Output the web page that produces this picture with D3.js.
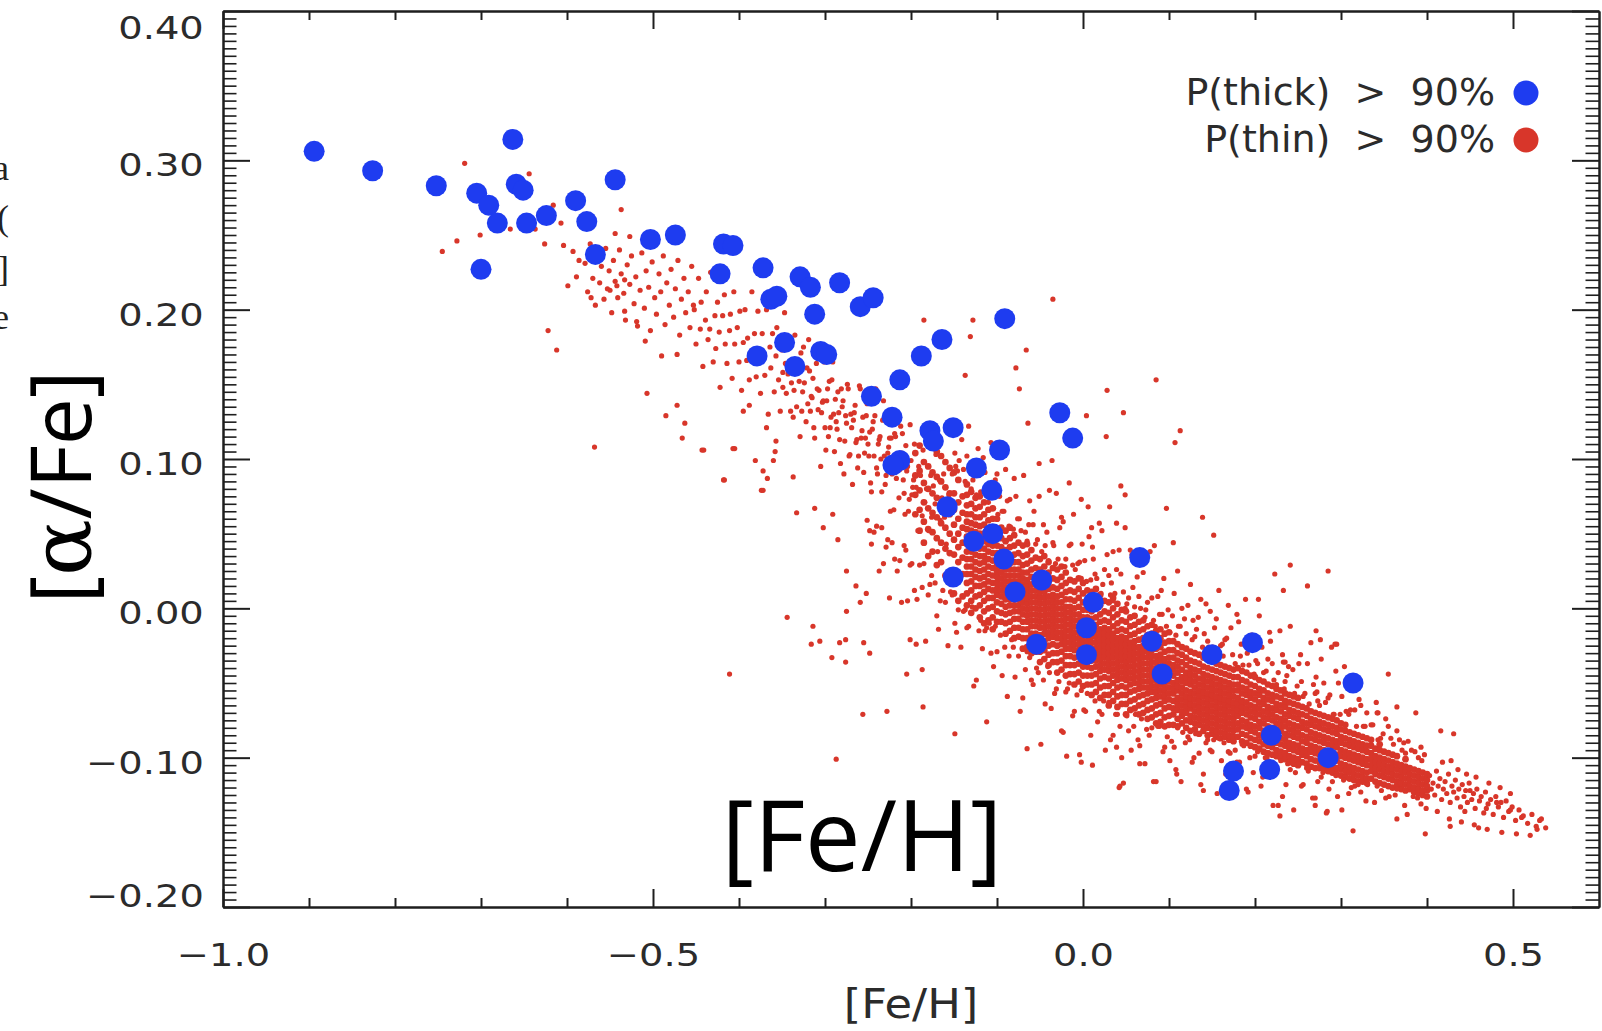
<!DOCTYPE html>
<html>
<head>
<meta charset="utf-8">
<script src="https://cdn.jsdelivr.net/npm/d3@7"></script>
<style>
  html, body { margin: 0; padding: 0; background: #ffffff; }
  svg { display: block; }
</style>
</head>
<body>
<svg id="chart" width="1602" height="1031"></svg>
<script>
// ---------------------------------------------------------------
// Axis ticks
// ---------------------------------------------------------------
const fehMajorTicks = [-1.0, -0.5, 0.0, 0.5];
const fehMinorTicks = [-0.9, -0.8, -0.7, -0.6, -0.4, -0.3, -0.2, -0.1, 0.1, 0.2, 0.3, 0.4];
const alphaMajorTicks = [-0.2, -0.1, 0.0, 0.1, 0.2, 0.3, 0.4];

const legendLabels = ["P(thick)  >  90%", "P(thin)  >  90%"];

// ---------------------------------------------------------------
// Thick-disc stars, P(thick) > 90%  :  [ [Fe/H], [alpha/Fe] ]
// ---------------------------------------------------------------
const thickStars = [
  [-0.894, 0.306], [-0.826, 0.293], [-0.663, 0.314], [-0.752, 0.283], [-0.705, 0.278],
  [-0.691, 0.270], [-0.681, 0.258], [-0.659, 0.284], [-0.651, 0.280], [-0.647, 0.258],
  [-0.624, 0.263], [-0.590, 0.273], [-0.544, 0.287], [-0.577, 0.259], [-0.567, 0.237],
  [-0.700, 0.227], [-0.503, 0.247], [-0.474, 0.250], [-0.418, 0.244], [-0.407, 0.243],
  [-0.422, 0.224], [-0.372, 0.228], [-0.363, 0.207], [-0.356, 0.209], [-0.379, 0.169],
  [-0.329, 0.222], [-0.317, 0.215], [-0.283, 0.218], [-0.312, 0.197], [-0.259, 0.202],
  [-0.244, 0.208], [-0.347, 0.178], [-0.335, 0.162], [-0.305, 0.172], [-0.298, 0.170],
  [-0.091, 0.194], [-0.164, 0.180], [-0.188, 0.169], [-0.213, 0.153], [-0.246, 0.142],
  [-0.222, 0.128], [-0.178, 0.119], [-0.174, 0.112], [-0.151, 0.121], [-0.027, 0.131],
  [-0.012, 0.114], [-0.097, 0.106], [-0.213, 0.099], [-0.221, 0.096], [-0.124, 0.094],
  [-0.106, 0.079], [-0.158, 0.068], [-0.105, 0.050], [-0.127, 0.045], [-0.092, 0.033],
  [0.066, 0.034], [-0.151, 0.021], [-0.048, 0.019], [-0.079, 0.011], [0.012, 0.004],
  [0.004, -0.013], [-0.054, -0.024], [0.004, -0.031], [0.080, -0.022], [0.092, -0.044],
  [0.150, -0.031], [0.197, -0.023], [0.314, -0.050], [0.219, -0.085], [0.285, -0.100],
  [0.217, -0.108], [0.175, -0.109], [0.170, -0.122]
];

// ---------------------------------------------------------------
// Thin-disc stars, P(thin) > 90%. Abundances in milli-dex.
// Dense ridge: each row is [ [Fe/H], [alpha/Fe], [alpha/Fe], ... ]
// ---------------------------------------------------------------
const thinRidgeColumns = [
  [-195,63,76,89,104],
  [-190,52,66,79,92,109],
  [-185,44,58,71,84,98],
  [-180,35,53,67,80,95,115],
  [-175,38,51,64,77,91,108],
  [-170,29,47,61,74,88,105],
  [-165,31,44,57,70,85,102],
  [-160,22,40,54,67,81,98],
  [-155,24,37,50,63,77,94],
  [-150,10,25,36,46,56,66,77,91],
  [-145,5,20,31,41,50,60,71,86],
  [-140,8,23,34,44,54,64,75],
  [-135,2,10,17,23,28,33,38,43,48,53,58,63,69,76,83],
  [-130,-3,5,12,18,23,28,33,38,42,47,52,57,63,70,78],
  [-125,0,8,15,21,26,31,36,41,46,51,56,61,67,74],
  [-120,-6,2,9,15,20,25,30,35,40,45,50,55,61,68,75],
  [-115,-10,-2,5,11,16,21,26,31,35,40,45,50,56,63,71],
  [-110,-8,0,7,13,18,23,28,33,38,43,48,53,59,66],
  [-105,-14,-6,1,7,12,17,22,27,32,37,42,47,53,60,67],
  [-100,-9,-2,4,9,13,17,21,25,29,33,37,42,47,53,60],
  [-95,-9,-3,3,8,12,16,20,24,28,32,36,41,47,54],
  [-90,-17,-10,-4,1,6,10,14,18,22,26,30,34,39,45,52],
  [-85,-15,-9,-3,2,6,10,14,18,22,26,30,35,41,47,54],
  [-80,-20,-13,-7,-2,2,6,10,14,18,22,26,31,36,42,49],
  [-75,-19,-13,-7,-2,2,6,10,14,18,22,26,31,37,44],
  [-70,-27,-20,-14,-9,-4,0,4,8,12,16,20,24,29,35,42],
  [-65,-26,-20,-14,-9,-5,-1,3,7,11,15,19,24,30,36,43],
  [-60,-30,-23,-17,-12,-8,-4,0,4,8,12,16,21,26,32,39],
  [-55,-29,-23,-17,-12,-8,-4,0,4,8,12,16,21,27,34],
  [-50,-36,-29,-23,-18,-13,-9,-5,-1,3,7,11,15,20,26,33],
  [-45,-34,-28,-22,-17,-13,-9,-5,-1,3,7,11,16,22,28,35],
  [-40,-38,-31,-25,-20,-16,-12,-8,-4,0,4,8,13,18,24,31],
  [-35,-36,-30,-24,-19,-15,-11,-7,-3,1,5,9,14,20,27],
  [-30,-43,-36,-30,-25,-20,-16,-12,-8,-4,0,4,8,13,19,26],
  [-25,-41,-35,-29,-24,-20,-16,-12,-8,-4,0,4,9,15,21,28],
  [-20,-45,-38,-32,-27,-23,-19,-15,-11,-7,-3,1,6,11,17,24],
  [-15,-44,-38,-32,-27,-23,-19,-15,-11,-7,-3,1,6,12,19],
  [-10,-51,-44,-38,-33,-28,-24,-20,-16,-12,-8,-4,0,5,11,18],
  [-5,-49,-43,-37,-32,-28,-24,-20,-16,-12,-8,-4,1,7,13,20],
  [0,-52,-45,-39,-34,-30,-26,-22,-18,-14,-10,-6,-1,4,10,17],
  [5,-51,-45,-39,-34,-30,-26,-22,-18,-14,-10,-6,-1,5,12],
  [10,-58,-51,-45,-40,-35,-31,-27,-23,-19,-15,-11,-7,-2,4,11],
  [15,-56,-50,-44,-39,-35,-31,-27,-23,-19,-15,-11,-6,0,6,13],
  [20,-60,-53,-47,-42,-38,-34,-30,-26,-22,-18,-14,-9,-4,2,9],
  [25,-58,-52,-46,-41,-37,-33,-29,-25,-21,-17,-13,-8,-2,5],
  [30,-65,-58,-52,-47,-42,-38,-34,-30,-26,-22,-18,-14,-9,-3,4],
  [35,-62,-56,-50,-45,-41,-37,-33,-29,-25,-21,-17,-12,-6,0,7],
  [40,-66,-59,-53,-48,-44,-40,-36,-32,-28,-24,-20,-15,-10,-4,3],
  [45,-64,-58,-52,-47,-43,-39,-35,-31,-27,-23,-19,-14,-8,-1],
  [50,-71,-64,-58,-53,-48,-44,-40,-36,-32,-28,-24,-20,-15,-9,-2],
  [55,-68,-62,-56,-51,-47,-43,-39,-35,-31,-27,-23,-18,-12,-6],
  [60,-67,-61,-55,-50,-46,-42,-38,-34,-30,-26,-22,-17,-11,-5],
  [65,-71,-65,-59,-54,-50,-46,-42,-38,-34,-30,-26,-21,-15,-9],
  [70,-70,-64,-58,-53,-49,-45,-41,-37,-33,-29,-25,-20,-14,-8],
  [75,-74,-68,-62,-57,-53,-49,-45,-41,-37,-33,-29,-24,-18,-12],
  [80,-73,-67,-61,-56,-52,-48,-44,-40,-36,-32,-28,-23,-17,-11],
  [85,-77,-71,-65,-60,-56,-52,-48,-44,-40,-36,-32,-27,-21,-15],
  [90,-76,-70,-64,-59,-55,-51,-47,-43,-39,-35,-31,-26,-20,-14],
  [95,-79,-73,-67,-62,-58,-54,-50,-46,-42,-38,-34,-29,-23,-17],
  [100,-78,-72,-66,-61,-57,-53,-49,-45,-41,-37,-33,-28,-22,-16],
  [105,-78,-71,-67,-62,-57,-54,-50,-45,-41,-38,-33,-28,-22],
  [110,-79,-74,-68,-64,-60,-55,-52,-48,-43,-39,-35,-30,-24],
  [115,-77,-72,-69,-65,-61,-57,-53,-49,-46,-41,-36,-31,-26],
  [120,-80,-75,-70,-66,-62,-59,-55,-50,-46,-43,-38,-33,-27],
  [125,-82,-76,-72,-67,-64,-60,-56,-51,-48,-44,-40,-35,-29],
  [130,-81,-77,-73,-69,-65,-61,-57,-53,-49,-45,-41,-36,-30],
  [135,-84,-78,-74,-70,-66,-62,-58,-55,-51,-47,-42,-37,-31],
  [140,-82,-79,-75,-71,-67,-63,-59,-56,-52,-48,-44,-39,-33],
  [145,-85,-80,-76,-72,-68,-64,-60,-57,-53,-49,-45,-40,-34],
  [150,-84,-81,-77,-73,-69,-65,-61,-58,-54,-50,-46,-41,-35],
  [155,-86,-82,-78,-74,-70,-66,-62,-59,-55,-51,-47,-42,-37],
  [160,-87,-83,-79,-75,-71,-67,-63,-60,-56,-52,-48,-43,-38],
  [165,-86,-84,-80,-76,-72,-68,-64,-61,-57,-53,-49,-44,-39],
  [170,-88,-85,-81,-77,-73,-69,-65,-62,-58,-54,-50,-45,-40],
  [175,-89,-86,-82,-78,-74,-70,-66,-63,-59,-55,-51,-46,-41],
  [180,-86,-81,-77,-72,-68,-64,-60,-55,-51,-46,-40],
  [185,-89,-84,-79,-75,-70,-66,-62,-57,-53,-48,-42],
  [190,-90,-85,-80,-76,-71,-67,-63,-58,-54,-49,-43],
  [195,-92,-87,-82,-78,-73,-69,-65,-60,-56,-51,-45],
  [200,-93,-88,-83,-79,-74,-70,-66,-61,-57,-52,-46],
  [205,-94,-89,-85,-80,-76,-71,-67,-63,-58,-54,-48],
  [210,-96,-91,-86,-82,-77,-73,-69,-64,-60,-55,-49],
  [215,-97,-92,-88,-83,-79,-74,-70,-66,-61,-57,-51],
  [220,-98,-93,-89,-84,-80,-75,-71,-67,-62,-58,-52],
  [225,-99,-95,-90,-86,-81,-77,-73,-68,-64,-59,-54],
  [230,-100,-96,-91,-87,-82,-78,-74,-69,-65,-60,-55],
  [235,-101,-97,-92,-88,-84,-79,-75,-71,-66,-62,-57],
  [240,-103,-99,-94,-90,-85,-81,-77,-72,-68,-63,-58],
  [245,-104,-100,-95,-91,-86,-82,-78,-73,-69,-64,-59],
  [250,-105,-101,-96,-92,-87,-83,-79,-74,-70,-65,-60],
  [255,-103,-98,-94,-89,-85,-80,-76,-71,-66],
  [260,-104,-99,-95,-90,-86,-81,-77,-72,-67],
  [265,-106,-101,-96,-92,-87,-83,-78,-74,-69],
  [270,-107,-102,-97,-93,-88,-84,-79,-75,-70],
  [275,-107,-103,-98,-94,-89,-85,-80,-76,-71],
  [280,-108,-104,-99,-95,-90,-86,-81,-77,-72],
  [285,-109,-105,-100,-96,-91,-87,-82,-78,-73],
  [290,-110,-106,-101,-97,-92,-88,-83,-79,-74],
  [295,-111,-107,-102,-98,-93,-89,-84,-80,-75],
  [300,-112,-108,-104,-99,-95,-90,-86,-81,-77],
  [305,-113,-109,-105,-100,-96,-91,-87,-82,-78],
  [310,-114,-110,-106,-101,-97,-92,-88,-83],
  [315,-115,-111,-107,-102,-98,-93,-89,-84],
  [320,-116,-112,-108,-103,-99,-94,-90,-85],
  [325,-116,-113,-109,-104,-100,-95,-91,-86],
  [330,-117,-114,-110,-105,-101,-96,-92,-87],
  [335,-114,-109,-105,-101,-97,-92,-88],
  [340,-116,-111,-107,-103,-99,-94],
  [345,-117,-112,-108,-104,-100,-95,-91],
  [350,-118,-113,-109,-105,-101,-96],
  [355,-119,-114,-110,-106,-102,-97],
  [360,-120,-115,-111,-107,-103,-98],
  [365,-119,-116,-112,-108,-104,-99],
  [370,-121,-117,-113,-109,-105],
  [375,-122,-118,-114,-110,-106,-101],
  [380,-121,-119,-115,-111,-107],
  [385,-123,-120,-116,-112,-108],
  [390,-124,-121,-117,-113,-109],
  [395,-125,-122,-118,-114,-110],
  [400,-126,-122,-119,-115,-111]
];

// Metal-poor end of the thin sequence: [ [Fe/H], [alpha/Fe] ] in milli-dex
const thinMetalPoor = [
  [-719,298],[-644,291],[-728,246],[-701,250],[-745,239],[-666,254],[-637,254],[-616,270],
  [-607,258],[-626,244],[-604,243],[-537,267],[-544,251],[-527,249],[-593,239],[-586,233],
  [-589,222],[-599,216],[-572,208],[-550,213],[-533,220],[-542,216],[-533,199],[-519,192],
  [-509,179],[-622,186],[-612,173],[-507,144],[-490,169],[-472,170],[-472,136],[-485,129],
  [-463,124],
  [-579,231],[-576,212],[-573,244],[-570,221],[-567,203],[-565,236],[-562,218],[-560,229],
  [-557,207],[-555,241],[-553,214],[-551,226],[-548,198],[-546,233],[-544,219],[-541,208],
  [-539,240],[-537,224],[-534,211],[-532,193],[-530,230],[-527,217],[-525,236],[-522,204],
  [-520,222],[-518,189],[-515,213],[-513,238],[-510,201],[-508,226],[-505,215],[-503,186],
  [-501,232],[-498,208],[-496,197],[-493,224],[-491,212],[-488,236],[-486,190],[-484,218],
  [-481,203],[-479,227],[-476,195],[-474,214],[-471,233],[-469,183],[-467,207],[-464,221],
  [-462,198],[-459,212],[-457,188],[-455,229],[-453,203]
];

// Intermediate-metallicity part of the sequence
const thinBand = [
  [-452,200],[-450,177],[-447,221],[-445,187],[-444,205],[-442,162],[-439,193],[-438,212],[-436,180],[-434,187],
  [-433,225],[-430,165],[-428,196],[-427,174],[-425,205],[-423,185],[-422,148],[-419,196],[-417,210],[-416,177],
  [-414,164],[-411,186],[-410,197],[-408,154],[-406,212],[-405,177],[-402,188],[-400,165],[-399,199],[-397,146],
  [-395,178],[-393,200],[-391,166],[-390,181],[-388,153],[-385,212],[-384,173],[-382,184],[-380,155],[-378,199],
  [-377,165],[-375,144],[-373,184],[-371,170],[-370,156],[-368,200],[-366,130],[-364,175],[-363,161],[-361,184],
  [-359,145],[-357,169],[-356,188],[-354,153],[-352,132],[-350,173],[-349,158],[-347,198],[-345,144],[-343,157],
  [-342,174],[-340,132],[-338,161],[-336,146],[-335,183],[-333,135],[-331,160],[-329,115],[-328,171],[-326,145],
  [-324,151],[-322,125],[-321,161],[-319,180],[-317,132],[-315,141],[-314,154],[-312,114],[-310,164],[-308,133],
  [-307,146],[-305,95],[-303,138],[-301,165],[-300,121],[-298,139],[-296,115],[-295,152],[-293,128],[-291,165],
  [-289,105],[-288,140],[-286,120],[-284,131],[-282,97],[-281,147],[-279,139],[-277,112],[-275,124],[-274,150],
  [-272,102],[-270,130],[-268,83],[-267,126],[-265,136],[-263,113],[-261,102],[-260,149],[-258,114],[-256,128],
  [-255,91],[-253,114],[-251,137],[-249,102],[-248,118],[-246,78],[-244,125],[-243,102],[-241,147],[-239,90],
  [-238,110],[-236,115],[-234,78],[-233,126],[-231,102],[-229,89],[-228,131],[-226,108],[-224,65],[-223,114],
  [-221,95],[-219,117],[-217,87],[-216,99],[-214,74],[-212,122],[-211,104],[-209,86],[-207,63],[-206,109],
  [-204,95],[-202,73],[-201,123],[-199,76],[-197,86],[-196,110],[-194,81],[-192,52],[-191,95],[-189,89],
  [-187,62],[-186,106],[-184,71],[-182,80],[-181,114],[-179,52],[-177,89],[-176,61],[-174,82],[-172,70],
  [-171,103],[-169,38],[-167,86],[-166,59],[-164,74],[-162,90],[-161,61],[-159,43],[-157,65],[-156,76],
  [-154,24],[-152,90],
  [-349,148],[-346,164],[-343,175],[-339,151],[-337,128],[-334,163],[-330,152],[-327,132],[-325,175],[-320,137],
  [-318,159],[-316,142],[-313,121],[-309,147],[-306,171],[-304,131],[-302,139],[-299,106],[-297,147],[-294,121],
  [-292,153],[-290,130],[-287,125],[-285,145],[-283,113],[-280,135],[-278,90],[-276,129],[-273,147],[-271,103],
  [-269,121],[-266,131],[-264,111],[-262,94],[-259,147],[-257,119],[-254,104],[-252,129],[-250,110],[-247,84],
  [-245,120],[-242,129],[-240,94],[-237,113],[-235,100],[-232,139],[-230,83],[-227,104],[-225,114],[-222,90],
  [-220,66],[-218,115],[-215,101],[-213,93],[-210,117],[-208,77],[-205,92],[-203,65],[-200,99],[-198,81]
];

// Stars just above the ridge
const thinHaloAbove = [
  [-149,104],[-146,92],[-141,113],[-139,93],[-133,122],[-130,80],[-126,94],[-122,107],[-119,78],[-114,91],
  [-112,79],[-107,111],[-104,67],[-100,90],[-97,75],[-92,65],[-90,93],[-85,73],[-81,53],[-78,75],
  [-74,60],[-69,89],[-67,51],[-62,72],[-58,56],[-55,43],[-51,75],[-46,56],[-44,42],[-39,79],
  [-35,44],[-32,30],[-27,54],[-25,61],[-20,33],[-16,42],[-11,63],[-9,26],[-4,31],[-1,43],
  [4,18],[7,48],[12,33],[14,23],[19,57],[23,16],[28,36],[30,22],[35,5],[39,26],
  [42,39],[47,11],[51,3],[55,39],[58,14],[63,21],[67,0],[70,24],[75,4],[78,38],
  [82,-8],[87,8],[89,-4],[94,20],[99,-1],[101,-16],[106,10],[110,25],[113,-12],[118,-7],
  [122,2],[125,16],[130,-19],[134,-6],[137,6],[141,-17],[146,-26],[148,-2],[153,-13],[158,12],
  [160,-25],[165,-21],[169,2],[172,-13],[177,-37],[181,-9],[184,-24],[189,6],[193,-38],[196,-18],
  [201,-35],[205,-5],[208,-26],[213,-42],[217,-16],[220,-37],[225,-51],[229,-15],[232,-31],[237,-45],
  [241,-12],[244,-41],[249,-52],[253,-31],[256,-59],[261,-37],[265,-23],[268,-51],[273,-62],[277,-34],
  [280,-50],[285,-60],[289,-26],[292,-71],[297,-50],[301,-59],[304,-39],[309,-71],[313,-51],[316,-68],
  [321,-61],[326,-79],[330,-70],[335,-78],[341,-63],[346,-87],[352,-74],[358,-87],[365,-82],[371,-95],
  [378,-89],[386,-96],[394,-102],
  [-148,95],[-144,99],[-137,85],[-135,102],[-128,86],[-124,76],[-121,89],[-116,101],[-110,71],[-108,76],
  [-102,86],[-99,63],[-94,65],[-88,72],[-86,55],[-80,87],[-76,60],[-72,52],[-65,45],[-63,56],
  [-57,65],[-53,46],[-48,38],[-42,51],[-40,32],[-34,42],[-29,33],[-23,58],[-21,28],[-14,43],
  [-12,29],[-6,30],[-2,20],[2,32],[9,19],[11,41],[16,20],[21,10],[25,26],[32,9],
  [33,17],[37,10],[44,23],[49,0],[53,7],[57,36],[60,1],[65,8],[72,-6],[73,-1],
  [80,7],[84,-12],[91,12],[92,-4],[97,-12],[104,-5],[108,-18],[111,-12],[115,0],[120,-17],
  [127,-21],[128,-8],[132,-14],[139,-26],[143,3],[145,-22],[151,-26],[155,-7],[162,-24],[163,-32],
  [167,-20],[174,-31],[179,-4],[183,-32],[186,-38],[191,-30],[198,-24],[199,-44],[203,-37],[210,-43],
  [215,-34],[218,-22],[222,-48],[227,-43],[234,-54],[235,-49],[239,-39],[246,-57],[251,-37],[254,-49],
  [258,-57],[263,-64],[270,-57],[271,-46],[275,-65],[282,-63],[287,-58],[291,-71],[294,-42],[299,-71],
  [306,-69],[311,-68],[318,-79],[323,-65],[328,-79],[337,-78],[343,-88],[349,-84],[355,-79],[361,-91],
  [368,-88],[375,-97],[382,-95],[390,-100],[397,-98]
];

// Stars just below the ridge
const thinHaloBelow = [
  [-251,59],[-246,43],[-243,51],[-237,25],[-234,54],[-229,41],[-225,7],[-222,44],[-216,25],[-213,32],
  [-208,42],[-204,5],[-199,30],[-196,12],[-190,29],[-187,14],[-183,-22],[-178,16],[-176,22],[-170,-5],
  [-166,5],[-163,12],[-157,-25],[-154,11],[-149,-10],[-145,-1],[-142,-26],[-137,-1],[-133,-12],[-129,1],
  [-124,-48],[-121,-15],[-117,-27],[-112,-13],[-109,-10],[-104,-39],[-100,-29],[-96,-18],[-91,-26],[-88,-59],
  [-83,-21],[-79,-46],[-75,-32],[-70,-60],[-67,-41],[-62,-33],[-58,-51],[-54,-40],[-49,-91],[-46,-48],
  [-41,-39],[-37,-67],[-33,-57],[-28,-49],[-25,-82],[-20,-56],[-16,-50],[-12,-72],[-7,-58],[-4,-98],
  [1,-68],[5,-57],[9,-85],[14,-62],[17,-76],[22,-71],[26,-95],[30,-63],[35,-85],[38,-71],
  [43,-79],[47,-117],[51,-72],[56,-95],[59,-79],[64,-88],[68,-74],[72,-104],[77,-85],[80,-80],
  [85,-116],[89,-79],[93,-96],[98,-86],[101,-102],[106,-93],[110,-80],[114,-116],[119,-90],[122,-86],
  [127,-103],[131,-84],[135,-97],[140,-111],[143,-90],[148,-95],[152,-88],[156,-124],[161,-102],[164,-90],
  [169,-96],[173,-108],[177,-95],[182,-103],[185,-91],[190,-121],[194,-100],[198,-110],[203,-96],[207,-119],
  [212,-100],[216,-108],[221,-132],[226,-108],[230,-102],[236,-118],[241,-108],[245,-135],[251,-104],[256,-118],
  [262,-109],[267,-127],[273,-116],[279,-110],[284,-136],[290,-116],[296,-126],[303,-115],[309,-124],[316,-119],
  [323,-123],[331,-118],[339,-130],[347,-122],[356,-126],[365,-121],[374,-132],[384,-126],[393,-131],
  [-248,52],[-240,55],[-232,30],[-227,46],[-219,33],[-211,4],[-206,39],[-201,29],[-193,6],[-185,30],
  [-180,9],[-172,17],[-168,-14],[-160,4],[-152,9],[-147,-16],[-139,-2],[-135,-13],[-127,-52],[-119,-8],
  [-114,-15],[-107,-30],[-102,-12],[-94,-45],[-86,-32],[-81,-26],[-73,-69],[-65,-29],[-60,-48],[-52,-43],
  [-44,-64],[-39,-43],[-31,-54],[-23,-83],[-18,-54],[-10,-69],[-2,-55],[3,-69],[11,-105],[19,-69],
  [24,-62],[32,-88],[40,-71],[45,-100],[53,-82],[61,-71],[66,-92],[74,-81],[82,-116],[87,-79],
  [95,-93],[103,-89],[108,-108],[116,-83],[124,-88],[129,-100],[137,-118],[145,-88],[150,-96],[158,-87],
  [166,-111],[171,-97],[179,-103],[187,-92],[192,-123],[200,-99],[209,-113],[214,-100],[223,-108],[232,-126],
  [238,-104],[247,-110],[254,-119],[260,-107],[270,-127],[277,-113],[286,-121],[294,-112],[301,-135],[312,-120],
  [320,-118],[329,-129],[342,-119],[352,-127],[363,-125],[377,-138],[389,-127],[399,-134]
];

// Widely scattered stars
const thinScatter = [
  [-568,108],[-466,114],[-443,106],[-417,86],[-405,107],[-395,132],[-388,136],[-381,99],[-372,79],[-372,92],[-367,87],
  [-368,121],[-357,112],[-360,99],[-358,105],[-337,88],[-333,64],[-312,67],[-291,63],[-302,54],[-285,46],[-344,-6],
  [-314,-12],[-316,-24],[-306,-22],[-292,-33],[-283,-23],[-276,-21],[-275,-2],[-276,-36],[-255,-23],[-248,-30],[-259,4],
  [-264,15],[-275,25],[-252,10],[-411,-44],[-256,-71],[-228,-69],[-287,-101],[-205,-44],[-186,-66],[-187,-41],[-201,-21],
  [-194,-24],[-35,207],[-128,193],[-185,193],[-131,182],[-66,173],[-78,161],[-137,156],[-74,147],[28,146],[85,153],
  [47,131],[4,129],[27,115],[113,119],[107,111],[-64,124],[-36,99],[-51,97],[-16,84],[44,82],[49,76],[31,68],[97,67],
  [-31,77],[-2,73],[6,68],[10,54],[22,52],[39,57],[49,54],[35,38],[83,42],[105,44],[-418,86],[-374,79],[-441,106],
  [-407,107],[139,61],[152,49],[223,23],[241,29],[285,25],[233,12],[261,15],[204,6],[271,-15],[293,-24],[233,-36],
  [355,-44],[343,-70],[-149,-84],[-112,-76],[-65,-94],[-19,-99],[-2,-103],[43,-119],[39,-93],[66,-104],[109,-111],
  [140,-122],[227,-132],[229,-139],[270,-132],[283,-137],[276,-21],[295,-24],[235,-36],[272,-56],[342,-70],[365,-66],
  [387,-70],[416,-82],[431,-84],[373,-90],[393,-93],[450,-122],[481,-130],[469,-134],[497,-135],[510,-140],[531,-142],
  [528,-148],[460,-147],[427,-146],[398,-151],[365,-141],[314,-149],[42,-120],[444,-136]
];

// Metal-rich tail
const thinTail = [
  [403,-112],[405,-121],[407,-117],[409,-125],[411,-109],[413,-119],[415,-114],[417,-128],[419,-121],[421,-116],[423,-124],
  [425,-111],[427,-130],[429,-119],[431,-123],[433,-115],[435,-127],[437,-121],[439,-133],[441,-118],[443,-126],[445,-122],
  [447,-130],[449,-117],[452,-128],[454,-124],[456,-134],[458,-121],[461,-129],[463,-126],[466,-137],[468,-123],[471,-131],
  [474,-128],[477,-138],[480,-126],[483,-133],[486,-130],[489,-140],[492,-129],[495,-136],[499,-133],[503,-142],[507,-135],
  [512,-139],[517,-144],[522,-138],[527,-146],[533,-141],[538,-147],[418,-103],[428,-102],[436,-108],[446,-111],[457,-113],
  [472,-117],[485,-120],[497,-124],[412,-136],[426,-141],[440,-143],[455,-145],[470,-148],[487,-150],[504,-151],[520,-152]
];

// ---------------------------------------------------------------
// Layout and scales
// ---------------------------------------------------------------
const svg = d3.select("#chart");
const INK = "#1e1e1e";
const TEXT = "#2b2b2b";
const THIN_RED = "#d8362a";
const THICK_BLUE = "#1e3cf0";

const x = d3.scaleLinear().domain([-1.0, 0.6]).range([223, 1599]);
const y = d3.scaleLinear().domain([-0.2, 0.4]).range([907, 11]);
const [plotLeft, plotRight] = x.range();
const [plotBottom, plotTop] = y.range();

// ridge stars overlap heavily, so their dots are drawn a touch larger
const ridgeStars = [];
thinRidgeColumns.forEach(col => {
  col.slice(1).forEach(a => ridgeStars.push([col[0], a]));
});
const otherThinStars = [].concat(thinMetalPoor, thinBand, thinHaloAbove, thinHaloBelow, thinScatter, thinTail);

// ---------------------------------------------------------------
// Points
// ---------------------------------------------------------------
const thinLayer = svg.append("g").attr("fill", THIN_RED);
thinLayer.append("g")
  .selectAll("circle")
  .data(ridgeStars)
  .join("circle")
  .attr("cx", d => x(d[0] / 1000))
  .attr("cy", d => y(d[1] / 1000))
  .attr("r", 3.35);
thinLayer.append("g")
  .selectAll("circle")
  .data(otherThinStars)
  .join("circle")
  .attr("cx", d => x(d[0] / 1000))
  .attr("cy", d => y(d[1] / 1000))
  .attr("r", 2.6);

svg.append("g")
  .selectAll("circle")
  .data(thickStars)
  .join("circle")
  .attr("cx", d => x(d[0]))
  .attr("cy", d => y(d[1]))
  .attr("r", 10.5)
  .attr("fill", THICK_BLUE);

// ---------------------------------------------------------------
// Axes (ticks point inward on all four sides)
// ---------------------------------------------------------------
const alphaMinorTicks = d3.range(-40, 81)
  .filter(i => i % 20 !== 0)
  .map(i => i * 0.005);

function inkAxis(g, width) {
  g.select(".domain").attr("stroke", INK).attr("stroke-width", 2);
  g.selectAll(".tick line").attr("stroke", INK).attr("stroke-width", width);
}

function tickFont(g, sx) {
  g.selectAll(".tick text")
    .attr("font-family", "'DejaVu Sans', sans-serif")
    .attr("font-size", 32)
    .attr("fill", TEXT)
    .attr("transform", `scale(${sx},1)`);
}

// bottom
const gBottom = svg.append("g")
  .attr("transform", `translate(0,${plotBottom})`)
  .call(d3.axisBottom(x).tickValues(fehMajorTicks)
    .tickSizeInner(-18).tickSizeOuter(0).tickPadding(36)
    .tickFormat(d3.format(".1f")));
inkAxis(gBottom, 2);
tickFont(gBottom, 1.2);

svg.append("g")
  .attr("transform", `translate(0,${plotBottom})`)
  .call(d3.axisBottom(x).tickValues(fehMinorTicks)
    .tickSizeInner(-9).tickSizeOuter(0).tickFormat(""))
  .call(g => inkAxis(g, 2));

// top
svg.append("g")
  .attr("transform", `translate(0,${plotTop})`)
  .call(d3.axisTop(x).tickValues(fehMajorTicks)
    .tickSizeInner(-18).tickSizeOuter(0).tickFormat(""))
  .call(g => inkAxis(g, 2));
svg.append("g")
  .attr("transform", `translate(0,${plotTop})`)
  .call(d3.axisTop(x).tickValues(fehMinorTicks)
    .tickSizeInner(-9).tickSizeOuter(0).tickFormat(""))
  .call(g => inkAxis(g, 2));

// left
const gLeft = svg.append("g")
  .attr("transform", `translate(${plotLeft},0)`)
  .call(d3.axisLeft(y).tickValues(alphaMajorTicks)
    .tickSizeInner(-27).tickSizeOuter(0).tickPadding(16)
    .tickFormat(d3.format(".2f")));
inkAxis(gLeft, 2);
tickFont(gLeft, 1.2);
// end labels are nudged inside the frame, the rest sit on their ticks
gLeft.selectAll(".tick text")
  .attr("dy", d => d === 0.4 ? "27px" : (d === -0.2 ? "-1px" : "15.5px"));

svg.append("g")
  .attr("transform", `translate(${plotLeft},0)`)
  .call(d3.axisLeft(y).tickValues(alphaMinorTicks)
    .tickSizeInner(-13.5).tickSizeOuter(0).tickFormat(""))
  .call(g => inkAxis(g, 1.6));

// right
svg.append("g")
  .attr("transform", `translate(${plotRight},0)`)
  .call(d3.axisRight(y).tickValues(alphaMajorTicks)
    .tickSizeInner(-27).tickSizeOuter(0).tickFormat(""))
  .call(g => inkAxis(g, 2));
svg.append("g")
  .attr("transform", `translate(${plotRight},0)`)
  .call(d3.axisRight(y).tickValues(alphaMinorTicks)
    .tickSizeInner(-13.5).tickSizeOuter(0).tickFormat(""))
  .call(g => inkAxis(g, 1.6));

// small x-axis title
svg.append("text")
  .attr("transform", `translate(${(plotLeft + plotRight) / 2},1018) scale(1.12,1)`)
  .attr("text-anchor", "middle")
  .attr("font-family", "'DejaVu Sans', sans-serif")
  .attr("font-size", 40)
  .attr("fill", TEXT)
  .text("[Fe/H]");

// ---------------------------------------------------------------
// Legend
// ---------------------------------------------------------------
const legendColors = [THICK_BLUE, THIN_RED];
const legend = svg.append("g");
legendLabels.forEach((label, i) => {
  legend.append("text")
    .attr("x", 1495)
    .attr("y", 105 + i * 47)
    .attr("text-anchor", "end")
    .attr("font-family", "'DejaVu Sans', sans-serif")
    .attr("font-size", 38)
    .attr("fill", TEXT)
    .style("white-space", "pre")
    .text(label);
  legend.append("circle")
    .attr("cx", 1526)
    .attr("cy", 93 + i * 47)
    .attr("r", 12.5)
    .attr("fill", legendColors[i]);
});

// ---------------------------------------------------------------
// Large axis captions
// ---------------------------------------------------------------
svg.append("text")
  .attr("x", 862)
  .attr("y", 871)
  .attr("text-anchor", "middle")
  .attr("font-family", "'Open Sans', sans-serif")
  .attr("font-size", 99)
  .attr("fill", "#000")
  .text("[Fe/H]");

const yCaption = svg.append("text")
  .attr("transform", "translate(91,487) rotate(-90)")
  .attr("text-anchor", "middle")
  .attr("font-family", "'Open Sans', sans-serif")
  .attr("font-size", 84)
  .attr("fill", "#000");
yCaption.append("tspan").text("[");
yCaption.append("tspan").attr("font-family", "'DejaVu Serif', serif").text("α");
yCaption.append("tspan").text("/Fe]");

// slivers of page text at the left margin
const marginText = [["a", 180], ["(", 230], ["]", 281], ["e", 329]];
svg.append("g")
  .selectAll("text")
  .data(marginText)
  .join("text")
  .attr("x", 9)
  .attr("y", d => d[1])
  .attr("text-anchor", "end")
  .attr("font-family", "'Liberation Serif', serif")
  .attr("font-size", 36)
  .attr("fill", "#222")
  .text(d => d[0]);
</script>
</body>
</html>
